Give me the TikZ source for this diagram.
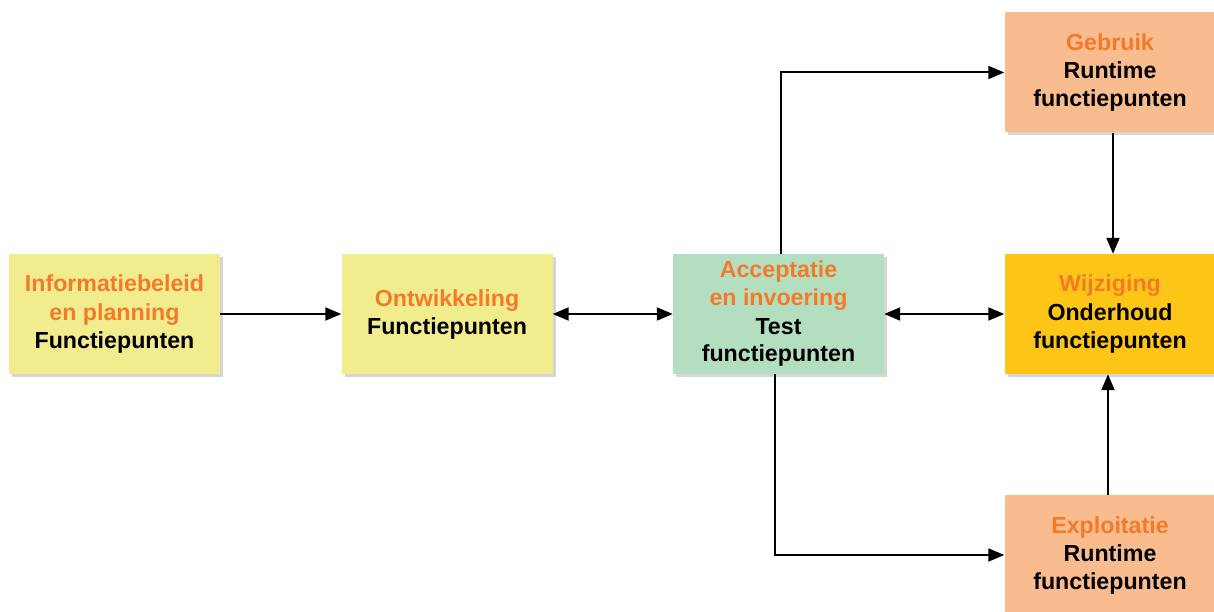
\documentclass[tikz,border=0pt]{standalone}
\usepackage{fontspec}
\setmainfont{Liberation Sans}
\usetikzlibrary{arrows.meta,shadows}
\definecolor{planyellow}{RGB}{241,237,143}
\definecolor{testgreen}{RGB}{180,222,192}
\definecolor{runpeach}{RGB}{249,188,142}
\definecolor{chggold}{RGB}{253,197,22}
\definecolor{phaseorange}{RGB}{244,122,42}
\newcommand\phase[1]{\textcolor{phaseorange}{#1}}
\tikzset{
  box/.style={minimum width=211pt, minimum height=120pt, inner sep=0pt,
    align=center, font=\bfseries\fontsize{23.2}{28}\selectfont,
    drop shadow={shadow xshift=3pt, shadow yshift=-3pt, fill=black!16, opacity=1}},
  tip/.tip={Triangle[length=16pt,width=13pt]},
  link/.style={line width=2pt, -tip},
  dlink/.style={line width=2pt, tip-tip}
}
\begin{document}
\begin{tikzpicture}[x=1pt,y=-1pt]
\useasboundingbox (0,0) rectangle (1214,612);
\fill[white] (0,0) rectangle (1214,612);

\node[box, fill=planyellow] (info) at (114.5,314) {\phase{Informatiebeleid}\\\phase{en planning}\\Functiepunten};
\node[box, fill=planyellow] (ontw) at (447,314) {\phase{Ontwikkeling}\\Functiepunten};
\node[box, fill=testgreen] (acc) at (778.5,314) {\phase{Acceptatie}\\\phase{en invoering}\\Test\\functiepunten};
\node[box, fill=runpeach] (geb) at (1110,72.5) {\phase{Gebruik}\\Runtime\\functiepunten};
\node[box, fill=chggold] (wijz) at (1110,314) {\phase{Wijziging}\\Onderhoud\\functiepunten};
\node[box, fill=runpeach] (expl) at (1110,555) {\phase{Exploitatie}\\Runtime\\functiepunten};

\draw[link] (info) -- (ontw);
\draw[dlink] (ontw) -- (acc);
\draw[dlink] (acc) -- (wijz);
\draw[link] ([xshift=2.5pt]acc.north) |- (geb.west);
\draw[link] ([xshift=-3.5pt]acc.south) |- (expl.west);
\draw[link] ([xshift=3pt]geb.south) -- ([xshift=3pt]wijz.north);
\draw[link] ([xshift=-2pt]expl.north) -- ([xshift=-2pt]wijz.south);
\end{tikzpicture}
\end{document}
